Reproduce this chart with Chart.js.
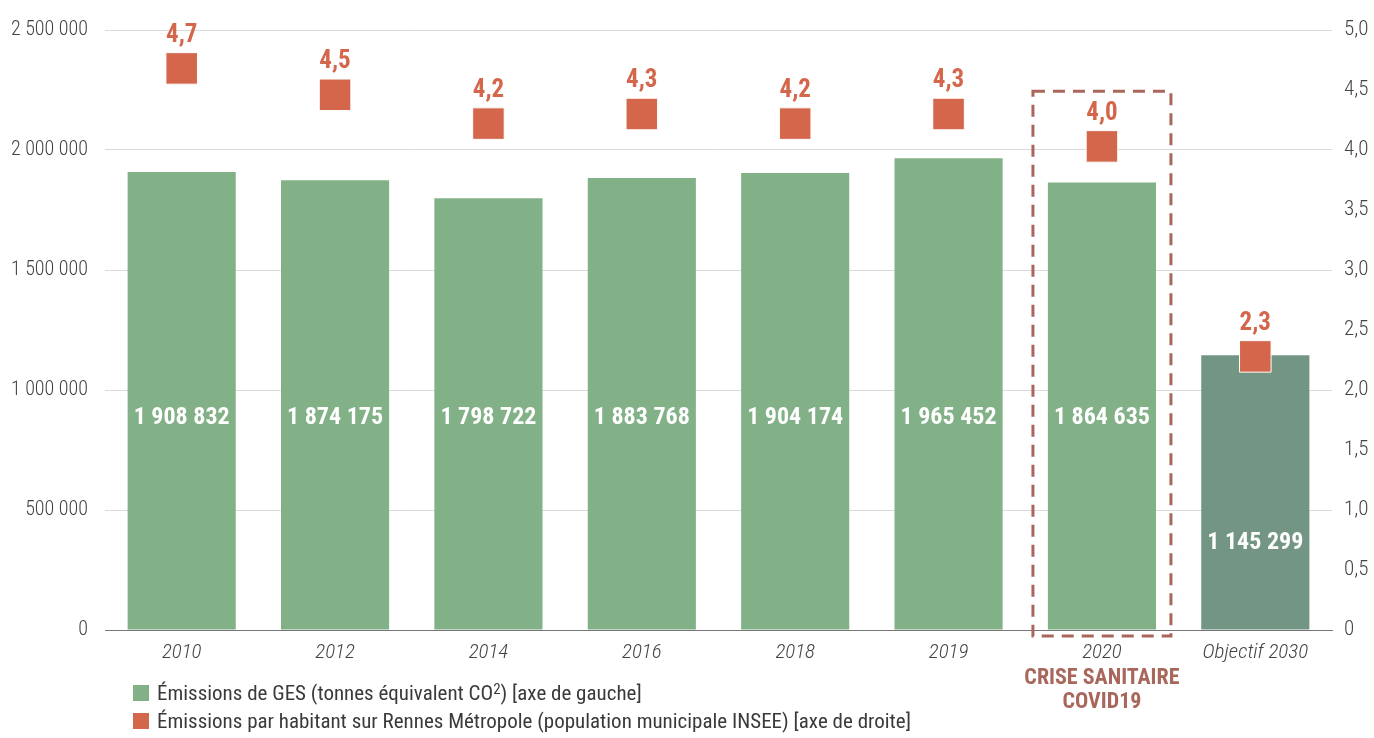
<!DOCTYPE html>
<html>
<head>
<meta charset="utf-8">
<script src="https://cdn.jsdelivr.net/npm/chart.js@4/dist/chart.umd.min.js"></script>
<style>
  html, body { margin: 0; padding: 0; background: #fff; }
  #wrap { position: relative; width: 1374px; height: 738px; }
  .leg { position: absolute; left: 133px; font: 400 21px "Roboto Condensed", "Liberation Sans Narrow", Roboto, sans-serif; color: #3a3a3a; white-space: nowrap; line-height: 24px; }
  .leg i { display: inline-block; width: 16px; height: 16px; margin-right: 8px; vertical-align: -1px; }
  .leg sup { font-size: 15px; line-height: 0; vertical-align: 6px; }
</style>
</head>
<body>
<div id="wrap">
  <canvas id="chart" width="1374" height="738"></canvas>
  <div class="leg" style="top:681px"><i style="background:#82b187"></i>Émissions de GES (tonnes équivalent CO<sup>2</sup>) [axe de gauche]</div>
  <div class="leg" style="top:709px"><i style="background:#d4664b"></i>Émissions par habitant sur Rennes Métropole (population municipale INSEE) [axe de droite]</div>
</div>
<script>
const categories = ['2010', '2012', '2014', '2016', '2018', '2019', '2020', 'Objectif 2030'];
const emissionsGES = [1908832, 1874175, 1798722, 1883768, 1904174, 1965452, 1864635, 1145299];
const emissionsHab = [4.68, 4.46, 4.22, 4.3, 4.22, 4.3, 4.03, 2.28];
const leftTicks = [0, 500000, 1000000, 1500000, 2000000, 2500000];
const rightTicks = [0, 0.5, 1, 1.5, 2, 2.5, 3, 3.5, 4, 4.5, 5];

const FONT = '"Roboto Condensed", "Liberation Sans Narrow", Roboto, sans-serif';
const GREEN = '#82b187';
const DARK_GREEN = '#739684';
const RED = '#d4664b';
const BROWN = '#a9665b';

function fmtMilliers(v) {
  return String(Math.round(v)).replace(/\B(?=(\d{3})+(?!\d))/g, ' ');
}
function fmtDecimal(v) {
  return v.toFixed(1).replace('.', ',');
}

// étiquettes, encadré covid, etc.
const annotations = {
  id: 'annotations',
  afterDatasetsDraw(chart) {
    const ctx = chart.ctx;
    const x = chart.scales.x;
    const y = chart.scales.y;
    const y1 = chart.scales.y1;
    const base = y.getPixelForValue(0);

    // valeurs dans les barres
    const bars = chart.getDatasetMeta(0).data;
    ctx.save();
    ctx.font = 'bold 24px ' + FONT;
    ctx.fillStyle = '#fff';
    ctx.textAlign = 'center';
    ctx.textBaseline = 'middle';
    bars.forEach((b, i) => {
      const ly = i === bars.length - 1 ? y.getPixelForValue(362000) : y.getPixelForValue(884000);
      ctx.fillText(fmtMilliers(emissionsGES[i]), b.x, ly);
    });

    // valeurs au-dessus des carrés
    const pts = chart.getDatasetMeta(1).data;
    ctx.fillStyle = RED;
    ctx.font = 'bold 25px ' + FONT;
    pts.forEach((p, i) => {
      ctx.fillText(fmtDecimal(emissionsHab[i]), p.x, p.y - 33);
    });

    // encadré crise sanitaire
    const cx = x.getPixelForValue(6);
    const top = y1.getPixelForValue(4.49);
    ctx.strokeStyle = BROWN;
    ctx.lineWidth = 3;
    ctx.setLineDash([12, 8]);
    ctx.strokeRect(cx - 69, top, 138, base + 6 - top);
    ctx.setLineDash([]);

    ctx.fillStyle = BROWN;
    ctx.font = 'bold 22px ' + FONT;
    ctx.fillText('CRISE SANITAIRE', cx, base + 48);
    ctx.fillText('COVID19', cx, base + 72);
    ctx.restore();
  }
};

new Chart(document.getElementById('chart'), {
  data: {
    labels: categories,
    datasets: [
      {
        type: 'bar',
        label: 'Émissions de GES',
        data: emissionsGES,
        backgroundColor: emissionsGES.map((v, i) => i === emissionsGES.length - 1 ? DARK_GREEN : GREEN),
        barPercentage: 0.705,
        categoryPercentage: 1,
        yAxisID: 'y',
        order: 2
      },
      {
        type: 'line',
        label: 'Émissions par habitant',
        data: emissionsHab,
        showLine: false,
        pointStyle: 'rect',
        pointRadius: 22.3,
        pointBackgroundColor: RED,
        pointBorderColor: '#fff',
        pointBorderWidth: 1,
        yAxisID: 'y1',
        order: 1
      }
    ]
  },
  options: {
    responsive: false,
    animation: false,
    layout: { padding: { top: 30 } },
    plugins: { legend: { display: false }, tooltip: { enabled: false } },
    scales: {
      x: {
        grid: { display: false },
        border: { display: true, color: '#777', width: 1 },
        ticks: { color: '#444', font: { family: FONT, size: 21, style: 'italic', weight: 300 }, padding: 2 },
        afterFit(s) { s.height = 108; }
      },
      y: {
        position: 'left',
        min: 0, max: 2500000,
        afterBuildTicks(s) { s.ticks = leftTicks.map(v => ({ value: v })); },
        grid: { color: '#dadada', drawTicks: false },
        border: { display: false },
        ticks: { color: '#444', font: { family: FONT, size: 20, weight: 300 }, padding: 17, callback: v => fmtMilliers(v) },
        afterFit(s) { s.width = 105; }
      },
      y1: {
        position: 'right',
        min: 0, max: 5,
        afterBuildTicks(s) { s.ticks = rightTicks.map(v => ({ value: v })); },
        grid: { display: false, drawTicks: false },
        border: { display: false },
        ticks: { color: '#444', font: { family: FONT, size: 21, weight: 300 }, padding: 12, callback: v => v === 0 ? '0' : fmtDecimal(v) },
        afterFit(s) { s.width = 42; }
      }
    }
  },
  plugins: [annotations]
});
</script>
</body>
</html>
